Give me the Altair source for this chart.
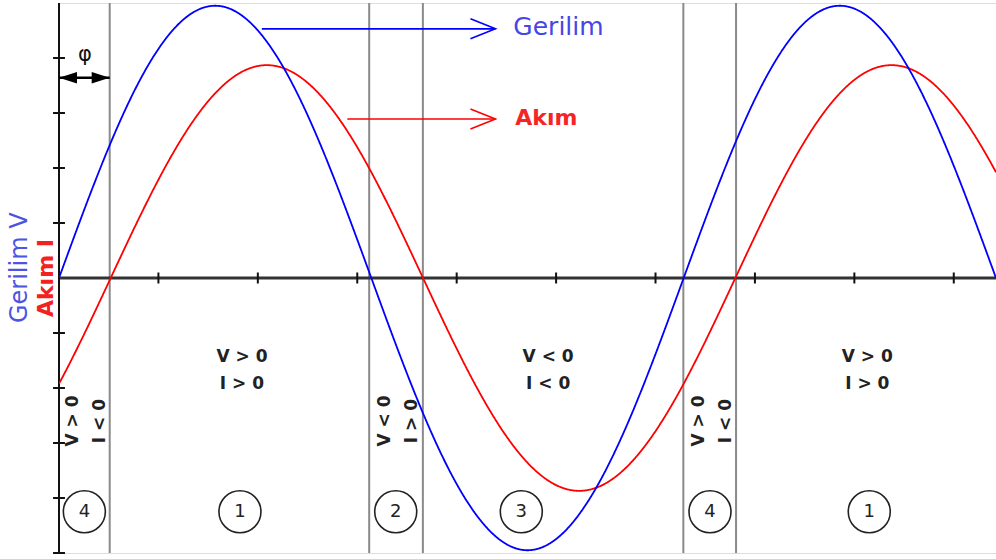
import math
import altair as alt
import pandas as pd

# ---- values (x in radians, y in axis units) ----
x_end = 3 * math.pi
x_ticks = [1, 2, 3, 4, 5, 6, 7, 8, 9]
y_ticks = [-5, -4, -3, -2, -1, 1, 2, 3, 4]
v_amp = 4.95          # voltage amplitude
i_amp = 3.87          # current amplitude
phase = 0.52          # current lags voltage by phi (rad)
crossings = [0.51, 3.12, 3.66, 6.28, 6.81]

region_x = [1.84, 4.92, 8.13]
region_text = ["V > 0\nI > 0", "V < 0\nI < 0", "V > 0\nI > 0"]
narrow_x = [0.145, 3.28, 6.44]
narrow_text = ["V > 0\nI < 0", "V < 0\nI > 0", "V > 0\nI < 0"]
circle_x = [0.255, 1.82, 3.387, 4.65, 6.548, 8.15]
circle_num = ["4", "1", "2", "3", "4", "1"]

BLUE = "#0000ff"
RED = "#ff0000"
FONT = "DejaVu Sans"

W, H = 937, 550
xs = alt.Scale(domain=[0, x_end], nice=False, zero=False)
ys = alt.Scale(domain=[-5, 5], nice=False, zero=False)


def X(field):
    return alt.X(field, type="quantitative", scale=xs, axis=None)


def Y(field):
    return alt.Y(field, type="quantitative", scale=ys, axis=None)


# ---- guide lines ----
vlines = alt.Chart(pd.DataFrame({"x": crossings})).mark_rule(
    color="#8a8a8a", strokeWidth=2
).encode(x=X("x"))

x_axis = alt.Chart(pd.DataFrame({"y": [0]})).mark_rule(
    color="#333333", strokeWidth=3
).encode(y=Y("y"))

y_axis = alt.Chart(pd.DataFrame({"x": [0]})).mark_rule(
    color="#111111", strokeWidth=2
).encode(x=X("x"))

xt = pd.DataFrame({"x": x_ticks, "lo": -0.1, "hi": 0.1})
xtick_marks = alt.Chart(xt).mark_rule(color="#111111", strokeWidth=2).encode(
    x=X("x"), y=Y("lo"), y2="hi"
)
yt = pd.DataFrame({"y": y_ticks, "lo": -0.06, "hi": 0.06})
ytick_marks = alt.Chart(yt).mark_rule(color="#111111", strokeWidth=2).encode(
    y=Y("y"), x=X("lo"), x2="hi"
)

# ---- waves: sample positions along x, heights from the sine of each ----
samples = pd.DataFrame({"t": [k * 0.005 for k in range(int(x_end / 0.005) + 2)]})
wave = alt.Chart(samples)
v_line = wave.transform_calculate(
    v=f"{v_amp} * sin(datum.t)"
).mark_line(color=BLUE, strokeWidth=1.8, clip=True).encode(x=X("t"), y=Y("v"))
i_line = wave.transform_calculate(
    i=f"{i_amp} * sin(datum.t - {phase})"
).mark_line(color=RED, strokeWidth=1.8, clip=True).encode(x=X("t"), y=Y("i"))

# ---- legend arrows ----
arrows = pd.DataFrame({
    "x1": [2.04, 2.90], "x2": [4.39, 4.39], "y": [4.53, 2.89],
    "c": [BLUE, RED],
})
arrow_lines = alt.Chart(arrows).mark_rule(strokeWidth=1.6).encode(
    x=X("x1"), x2="x2", y=Y("y"), color=alt.Color("c:N", scale=None)
)
arrow_heads = alt.Chart(arrows).mark_point(
    shape="M-1,-0.4L0,0L-1,0.4", filled=False, strokeWidth=1.6, size=2500, opacity=1
).encode(x=X("x2"), y=Y("y"), color=alt.Color("c:N", scale=None))

lbl_g = alt.Chart(pd.DataFrame({"x": [4.57], "y": [4.56], "t": ["Gerilim"]})).mark_text(
    align="left", baseline="middle", font=FONT, fontSize=25, color="#4646e6"
).encode(x=X("x"), y=Y("y"), text="t")
lbl_a = alt.Chart(pd.DataFrame({"x": [4.59], "y": [2.91], "t": ["Akım"]})).mark_text(
    align="left", baseline="middle", font=FONT, fontSize=22, fontWeight="bold",
    color="#f52525"
).encode(x=X("x"), y=Y("y"), text="t")

# ---- y title (two colours) ----
ytitle_v = alt.Chart(pd.DataFrame({"x": [-0.39], "y": [-0.82], "t": ["Gerilim V"]})).mark_text(
    align="left", baseline="middle", angle=270, font=FONT, fontSize=24, color="#4b55e2"
).encode(x=X("x"), y=Y("y"), text="t")
ytitle_i = alt.Chart(pd.DataFrame({"x": [-0.13], "y": [-0.71], "t": ["Akım I"]})).mark_text(
    align="left", baseline="middle", angle=270, font=FONT, fontSize=22, fontWeight="bold",
    color="#f52020"
).encode(x=X("x"), y=Y("y"), text="t")

# ---- phase marker ----
phi_df = pd.DataFrame({"x1": [0.0], "x2": [0.51], "y": [3.64]})
phi_line = alt.Chart(phi_df).mark_rule(color="black", strokeWidth=2.5).encode(
    x=X("x1"), x2="x2", y=Y("y")
)
phi_left = alt.Chart(phi_df).mark_point(
    shape="M0,0L1,-0.32L1,0.32Z", filled=True, color="black", size=1300, opacity=1
).encode(x=X("x1"), y=Y("y"))
phi_right = alt.Chart(phi_df).mark_point(
    shape="M0,0L-1,-0.32L-1,0.32Z", filled=True, color="black", size=1300, opacity=1
).encode(x=X("x2"), y=Y("y"))
phi_text = alt.Chart(pd.DataFrame({"x": [0.26], "y": [4.05], "t": ["φ"]})).mark_text(
    align="center", baseline="middle", font=FONT, fontSize=21, color="#111111"
).encode(x=X("x"), y=Y("y"), text="t")

# ---- region annotations ----
reg = alt.Chart(pd.DataFrame({"x": region_x, "y": [-1.43] * 3, "t": region_text})).mark_text(
    align="center", baseline="middle", font=FONT, fontSize=17, fontWeight="bold",
    lineBreak="\n", lineHeight=27, color="#222222"
).encode(x=X("x"), y=Y("y"), text="t")

narrow = alt.Chart(pd.DataFrame({"x": narrow_x, "y": [-2.6] * 3, "t": narrow_text})).mark_text(
    align="center", baseline="middle", font=FONT, fontSize=17, fontWeight="bold",
    lineBreak="\n", lineHeight=27, angle=270, color="#222222"
).encode(x=X("x"), y=Y("y"), text="t")

circ_df = pd.DataFrame({"x": circle_x, "y": [-4.25] * 6, "t": circle_num})
circles = alt.Chart(circ_df).mark_point(
    shape="circle", filled=False, size=1764, color="#222222", strokeWidth=1.6, opacity=1
).encode(x=X("x"), y=Y("y"))
circle_lbl = alt.Chart(circ_df).mark_text(
    align="center", baseline="middle", font=FONT, fontSize=18, color="#222222"
).encode(x=X("x"), y=Y("y"), text="t")

chart = alt.layer(
    vlines, x_axis, y_axis, xtick_marks, ytick_marks,
    i_line, v_line,
    arrow_lines, arrow_heads, lbl_g, lbl_a,
    ytitle_v, ytitle_i,
    phi_line, phi_left, phi_right, phi_text,
    reg, narrow, circles, circle_lbl,
).properties(
    width=W, height=H,
    autosize=alt.AutoSizeParams(type="none"),
    padding={"left": 59, "top": 3, "right": 0, "bottom": 6},
).configure_view(stroke=None).configure(background="white")

chart.save("out.html", embed_options={"renderer": "svg", "actions": False})
